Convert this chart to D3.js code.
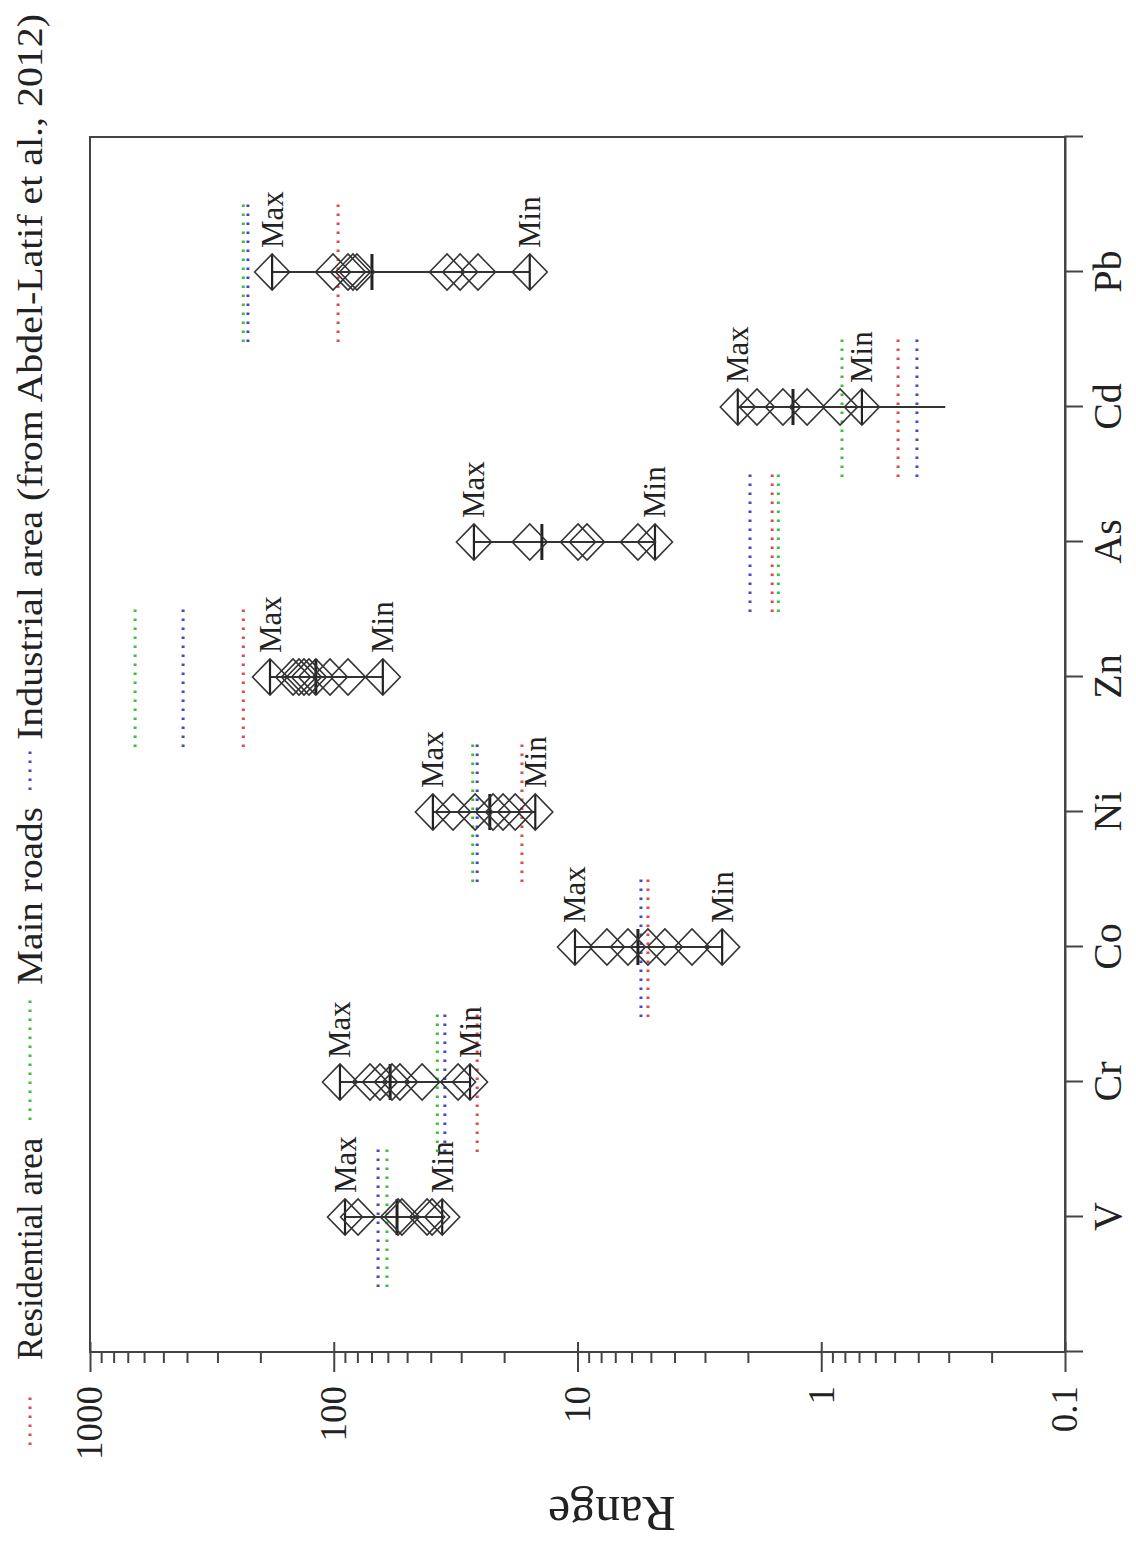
<!DOCTYPE html>
<html><head><meta charset="utf-8">
<script src="https://cdn.jsdelivr.net/npm/d3@7"></script>
<style>body{margin:0;background:#fff}</style>
</head><body>
<svg id="c" width="1136" height="1554"></svg>
<script>
// ---- data ----
const categories = ["V","Cr","Co","Ni","Zn","As","Cd","Pb"];
const maxValues  = [89.9, 94.3, 10.24, 39.2, 182.6, 26.6, 2.20, 179];
const minValues  = [35.9, 27.6, 2.55, 14.9, 62.9, 4.81, 0.681, 15.7];
const whiskerEnd = [35.9, 27.6, 2.55, 14.9, 62.9, 4.81, 0.31, 15.7];
const meanValues = [55, 58.7, 5.65, 22.9, 118.4, 14.0, 1.306, 69.7];
const V_samples  = [89.9, 79.5, 54.5, 52.5, 41.4, 39.5, 35.9];
const Cr_samples = [94.3, 71.0, 64.6, 57.7, 53.5, 43.4, 30.9, 27.6];
const Co_samples = [10.24, 7.57, 6.21, 5.14, 4.38, 3.39, 2.55];
const Ni_samples = [39.2, 32.4, 26.3, 22.2, 20.2, 18.0, 14.9];
const Zn_samples = [182.6, 146.9, 138.9, 132.5, 126.4, 118.4, 103.6, 87.4, 62.9];
const As_samples = [26.6, 15.7, 9.95, 9.14, 5.65, 4.81];
const Cd_samples = [2.20, 1.836, 1.436, 1.143, 0.837, 0.681];
const Pb_samples = [179, 100.7, 87.4, 83.4, 80.3, 34.3, 30.3, 25.6, 15.7];
const residential = [null, 25.8, 5.14, 16.9, 235, 1.59, 0.484, 96];
const mainRoads   = [60.5, 37.6, null, 26.9, 653, 1.50, 0.822, 235];
const industrial  = [65.8, 35.0, 5.49, 25.8, 415, 1.96, 0.405, 225];
const valueTicks  = [1000, 100, 10, 1, 0.1];
const valueTickLabels = ["1000", "100", "10", "1", "0.1"];
const seriesNames = ["Residential area", "Main roads", "Industrial area (from Abdel-Latif et al., 2012)"];
const seriesColors = ["#e04848", "#3cbf3c", "#4646cc"];

const samples = [V_samples, Cr_samples, Co_samples, Ni_samples, Zn_samples, As_samples, Cd_samples, Pb_samples];
const refSeries = [residential, mainRoads, industrial];

// ---- layout: chart drawn in an unrotated frame, then rotated -90deg ----
const W = 1554, H = 1136;
const svg = d3.select("#c");
const g = svg.append("g").attr("transform", `translate(0,${W}) rotate(-90)`);
const FONT = "'Liberation Serif','Times New Roman',serif";

const x = d3.scalePoint().domain(categories).range([202, 1417]).padding(1);
const y = d3.scaleLog().domain([0.1, 1000]).range([1065, 90]);

// frame
g.append("rect").attr("x", 202).attr("y", 90).attr("width", 1417 - 202).attr("height", 1065 - 90)
  .attr("fill", "none").attr("stroke", "#444").attr("stroke-width", 2);

// value axis (left in the unrotated frame)
const minor = [];
for (let e = -1; e < 3; e++) for (let m = 2; m <= 9; m++) minor.push(m * Math.pow(10, e));
const axL = g.append("g").attr("transform", "translate(202,0)")
  .call(d3.axisLeft(y).tickValues(valueTicks).tickSize(20).tickPadding(14)
    .tickFormat((d, i) => valueTickLabels[i]));
g.append("g").attr("transform", "translate(202,0)")
  .call(d3.axisRight(y).tickValues(valueTicks).tickSize(10).tickFormat(""));
g.append("g").attr("transform", "translate(202,0)")
  .call(d3.axisLeft(y).tickValues(minor).tickSize(11).tickFormat(""));
g.selectAll(".domain").remove();
axL.selectAll("text").attr("font-family", FONT).attr("font-size", 37).attr("fill", "#222");
g.selectAll(".tick line").attr("stroke", "#444").attr("stroke-width", 2);

// category axis (bottom in the unrotated frame)
const axB = g.append("g").attr("transform", "translate(0,1065)")
  .call(d3.axisBottom(x).tickSize(18).tickSizeOuter(18).tickPadding(10));
axB.select(".domain").attr("stroke", "#444").attr("stroke-width", 2);
axB.selectAll(".tick line").attr("stroke", "#444").attr("stroke-width", 2);
axB.selectAll("text").attr("font-family", FONT).attr("font-size", 40).attr("fill", "#222");

// axis title
g.append("text").attr("transform", "translate(40,612) rotate(-90)")
  .attr("text-anchor", "middle").attr("dominant-baseline", "central")
  .attr("font-family", FONT).attr("font-size", 50).attr("fill", "#222").text("Range");

// reference dotted lines
refSeries.forEach((ser, si) => {
  g.append("g").selectAll("line").data(categories.map((c, i) => ({c, v: ser[i]})).filter(d => d.v != null))
    .join("line")
    .attr("x1", d => x(d.c) - 70).attr("x2", d => x(d.c) + 70)
    .attr("y1", d => y(d.v)).attr("y2", d => y(d.v))
    .attr("stroke", seriesColors[si]).attr("stroke-width", 3)
    .attr("stroke-dasharray", "2.5,6.5").attr("stroke-linecap", "butt");
});

// range lines
const marks = g.append("g");
marks.selectAll("line.rng").data(categories).join("line").attr("class", "rng")
  .attr("x1", d => x(d)).attr("x2", d => x(d))
  .attr("y1", (d, i) => y(maxValues[i])).attr("y2", (d, i) => y(whiskerEnd[i]))
  .attr("stroke", "#333").attr("stroke-width", 2);

// caps at max / min
const capData = [];
categories.forEach((c, i) => { capData.push({c, v: maxValues[i]}); capData.push({c, v: minValues[i]}); });
marks.selectAll("line.cap").data(capData).join("line").attr("class", "cap")
  .attr("x1", d => x(d.c) - 18).attr("x2", d => x(d.c) + 18)
  .attr("y1", d => y(d.v)).attr("y2", d => y(d.v))
  .attr("stroke", "#222").attr("stroke-width", 2.2);

// mean bars
marks.selectAll("line.mean").data(categories).join("line").attr("class", "mean")
  .attr("x1", d => x(d) - 18).attr("x2", d => x(d) + 18)
  .attr("y1", (d, i) => y(meanValues[i])).attr("y2", (d, i) => y(meanValues[i]))
  .attr("stroke", "#222").attr("stroke-width", 3);

// diamonds
const pts = [];
categories.forEach((c, i) => samples[i].forEach(v => pts.push({c, v})));
marks.selectAll("path.dia").data(pts).join("path").attr("class", "dia")
  .attr("transform", d => `translate(${x(d.c)},${y(d.v)})`)
  .attr("d", "M0,-17.5L18,0L0,17.5L-18,0Z")
  .attr("fill", "none").attr("stroke", "#333").attr("stroke-width", 1.6);

// Max / Min labels
const lab = [];
categories.forEach((c, i) => { lab.push({c, v: maxValues[i], t: "Max"}); lab.push({c, v: minValues[i], t: "Min"}); });
g.append("g").selectAll("text").data(lab).join("text")
  .attr("x", d => x(d.c) + 24).attr("y", d => y(d.v))
  .attr("dominant-baseline", "central")
  .attr("font-family", FONT).attr("font-size", 31).attr("fill", "#222").text(d => d.t);

// legend (top in the unrotated frame)
const legendLineX = [[109, 159], [434, 554], [764, 809]];
const legendTextX = [194, 569, 814];
const legendTextLen = [222, 178, 726];
const leg = g.append("g");
seriesNames.forEach((n, i) => {
  leg.append("line").attr("x1", legendLineX[i][0]).attr("x2", legendLineX[i][1])
    .attr("y1", 30).attr("y2", 30).attr("stroke", seriesColors[i]).attr("stroke-width", 3)
    .attr("stroke-dasharray", "2.5,6.5");
  leg.append("text").attr("x", legendTextX[i]).attr("y", 30).attr("dominant-baseline", "central")
    .attr("textLength", legendTextLen[i]).attr("lengthAdjust", "spacingAndGlyphs")
    .attr("font-family", FONT).attr("font-size", 36).attr("fill", "#222").text(n);
});
</script>
</body></html>
